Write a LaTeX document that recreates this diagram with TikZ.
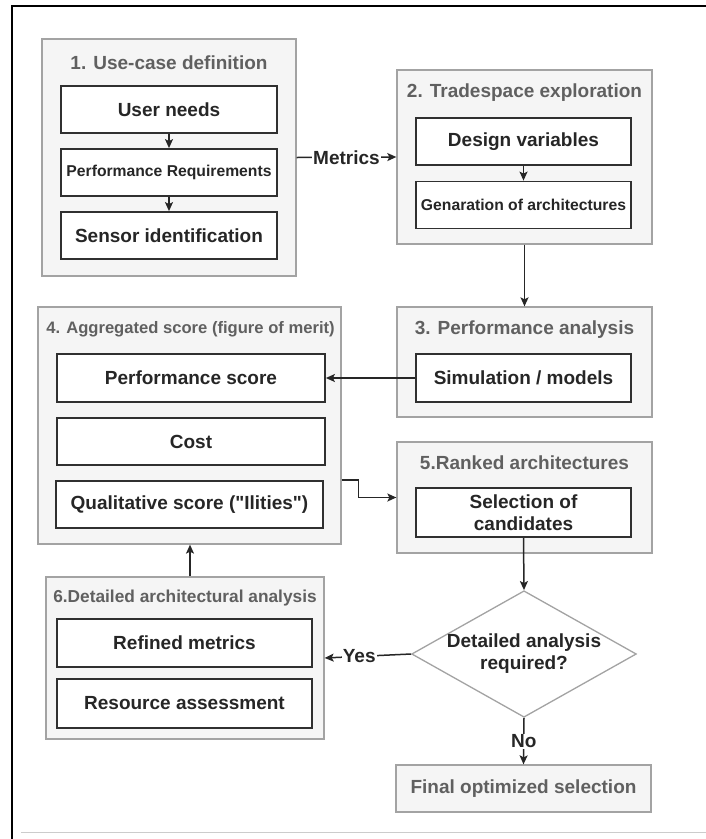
\documentclass[tikz,border=0pt]{standalone}
\usepackage{fontspec}
\setmainfont{Liberation Sans}
\usepackage{xcolor}
\usepackage{tikz}
\usetikzlibrary{shapes.geometric}
\usetikzlibrary{arrows.meta}
\usetikzlibrary{calc}

\definecolor{panelfill}{HTML}{F5F5F5}
\definecolor{panelline}{HTML}{A3A3A3}
\definecolor{titlegray}{HTML}{606060}
\definecolor{boxline}{HTML}{303030}
\definecolor{ink}{HTML}{262626}

\tikzset{
    panel/.style={draw=panelline,fill=panelfill,line width=1.3pt,inner sep=0pt},
    paneltitle/.style={text=titlegray,inner sep=0pt,font=\fontsize{19}{22}\selectfont\bfseries},
    stepbox/.style={draw=boxline,fill=white,line width=1.8pt,minimum height=47pt,inner sep=0pt,align=center,text=ink,font=\fontsize{19}{22}\selectfont\bfseries},
    smalltext/.style={font=\fontsize{15.7}{18}\selectfont\bfseries},
    flow/.style={line width=1.5pt,draw=ink,-{Stealth[length=9pt,width=8pt,inset=2pt]}},
    flowlabel/.style={fill=white,inner sep=1pt,text=ink,font=\fontsize{19}{22}\selectfont\bfseries}
}

\begin{document}
\begin{tikzpicture}[x=1pt,y=-1pt]
    \useasboundingbox (0,0) rectangle (706,839);
    \draw[line width=2pt] (12,840) -- (12,6) -- (707,6);
    \draw[black!20,line width=1pt] (21,832) -- (706,832);

    \node[panel,minimum width=254pt,minimum height=237pt] (usecase) at (169,157.5) {};
    \node[paneltitle] (usecaseT) at ($(usecase.north)+(0,24)$) {1. Use-case definition};
    \node[stepbox,minimum width=216pt] (needs) at (169,109.5) {User needs};
    \node[stepbox,smalltext,minimum width=216pt] (perfreq) at (169,172.5) {Performance Requirements};
    \node[stepbox,minimum width=216pt] (sensor) at (169,235.5) {Sensor identification};

    \node[panel,minimum width=255pt,minimum height=174pt] (trade) at (524.5,157) {};
    \node[paneltitle] (tradeT) at ($(trade.north)+(0,23)$) {2. Tradespace exploration};
    \node[stepbox,minimum width=215pt] (design) at (523.5,141.5) {Design variables};
    \node[stepbox,smalltext,minimum width=215pt] (genarch) at (523.5,205) {Genaration of architectures};

    \node[panel,minimum width=255pt,minimum height=110pt] (perf) at (524.5,362) {};
    \node[paneltitle] (perfT) at ($(perf.north)+(0,23)$) {3. Performance analysis};
    \node[stepbox,minimum width=215pt,minimum height=48pt] (simul) at (523.5,378) {Simulation / models};

    \node[panel,minimum width=303pt,minimum height=237pt] (aggr) at (189.5,425.5) {};
    \node[paneltitle,font=\fontsize{16.6}{20}\selectfont\bfseries] (aggrT) at ($(aggr.north)+(1,23)$) {4. Aggregated score (figure of merit)};
    \node[stepbox,minimum width=268pt,minimum height=48pt] (perfscore) at (191,378) {Performance score};
    \node[stepbox,minimum width=268pt] (cost) at (191,441.5) {Cost};
    \node[stepbox,minimum width=267pt] (qual) at (189.5,504.5) {Qualitative score (\textquotedbl Ilities\textquotedbl)};

    \node[panel,minimum width=255pt,minimum height=111pt] (ranked) at (524.5,497.5) {};
    \node[paneltitle] (rankedT) at ($(ranked.north)+(0,21)$) {5.Ranked architectures};
    \node[stepbox,minimum width=215pt,minimum height=49pt] (select) at (523.5,512.5) {Selection of\\candidates};

    \node[panel,minimum width=278pt,minimum height=162pt] (detail) at (185,658) {};
    \node[paneltitle,font=\fontsize{17.3}{20}\selectfont\bfseries] (detailT) at ($(detail.north)+(0,22)$) {6.Detailed architectural analysis};
    \node[stepbox,minimum width=255pt,minimum height=48pt] (refined) at (184.5,643) {Refined metrics};
    \node[stepbox,minimum width=255pt,minimum height=49pt] (resource) at (184.5,703.5) {Resource assessment};

    \node[diamond,draw=panelline,fill=white,line width=1.3pt,inner sep=0pt,aspect=1.776,minimum width=222pt,minimum height=125pt,align=center,text=ink,font=\fontsize{19}{22}\selectfont\bfseries] (decide) at (524,654) {Detailed analysis\\required?};

    \node[panel,minimum width=255pt,minimum height=47pt,text=titlegray,font=\fontsize{19}{22}\selectfont\bfseries] (final) at (523.5,788.5) {Final optimized selection};

    \draw[flow] (needs) -- (perfreq);
    \draw[flow] (perfreq) -- (sensor);
    \draw[flow] (design) -- (genarch);
    \draw[flow] (usecase.east) -- (trade.west) node[flowlabel,midway]{Metrics};
    \draw[flow] (trade.south) -- (perf.north);
    \draw[flow] (simul.west) -- (perfscore.east);
    \draw[flow] (aggr.east |- qual.north) -- ++(17,0) |- (ranked.west);
    \draw[flow] (select.south) -- (decide.north);
    \draw[flow] (decide.west) -- (detail.east) node[flowlabel,pos=0.6]{Yes};
    \draw[flow] (decide.south) -- (final.north) node[flowlabel,midway]{No};
    \draw[flow] ([xshift=5pt]detail.north) -- ([xshift=5pt]aggr.south -| detail.north);
\end{tikzpicture}
\end{document}
